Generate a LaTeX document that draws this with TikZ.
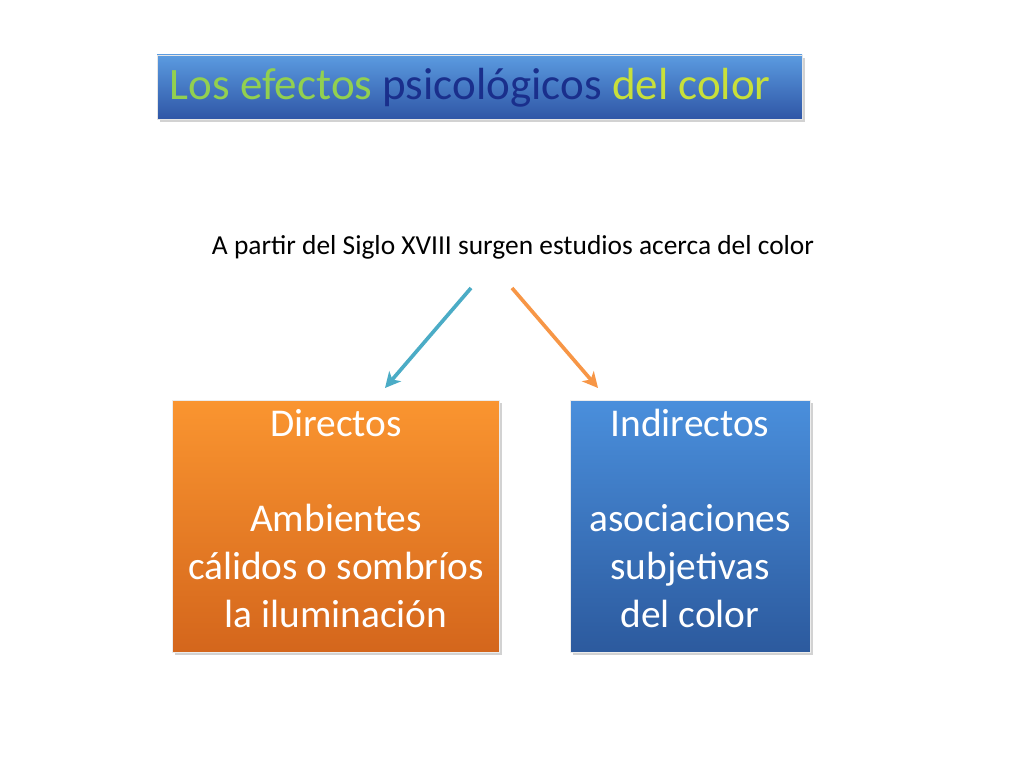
\documentclass[tikz,border=0pt]{standalone}
\usepackage{fontspec}
\setmainfont{Carlito}
\usetikzlibrary{shadows,arrows.meta}
\definecolor{ttlgreen}{HTML}{92D050}
\definecolor{ttlblue}{HTML}{1A2F8C}
\definecolor{ttlyellow}{HTML}{C8E03A}
\definecolor{arrteal}{HTML}{4BACC6}
\definecolor{arrorange}{HTML}{F79646}
\definecolor{ttltop}{HTML}{5B9BE0}
\definecolor{ttlbot}{HTML}{2F56A6}
\definecolor{warmtop}{HTML}{FA9530}
\definecolor{warmbot}{HTML}{D4661C}
\definecolor{cooltop}{HTML}{4A8FDC}
\definecolor{coolbot}{HTML}{2C5A9E}
\tikzset{
  titlebox/.style={draw=white!80!gray, top color=ttltop, bottom color=ttlbot, drop shadow={opacity=0.35}},
  warmbox/.style={draw=white!85!gray, top color=warmtop, bottom color=warmbot, drop shadow={opacity=0.35}},
  coolbox/.style={draw=white!85!gray, top color=cooltop, bottom color=coolbot, drop shadow={opacity=0.35}},
  boxtext/.style={white, font=\fontsize{28}{34}\selectfont, align=center},
  linkarrow/.style={line width=2.6pt, -{Stealth[length=11pt, width=11pt, inset=3pt]}}
}
\begin{document}
\begin{tikzpicture}[x=0.025cm, y=-0.025cm]
  \useasboundingbox (0,0) rectangle (1024,768);
  \fill[white] (0,0) rectangle (1024,768);

  \draw[titlebox] (157,55) rectangle (802,119);
  \node[anchor=west, font=\fontsize{32}{38}\selectfont] (title) at (165,88)
    {\textcolor{ttlgreen}{Los efectos} \textcolor{ttlblue}{psicológicos} \textcolor{ttlyellow}{del color}};

  \node[font=\fontsize{19.5}{24}\selectfont] (intro) at (513,247)
    {A partir del Siglo XVIII surgen estudios acerca del color};

  \draw[warmbox] (172,400) rectangle (499,652);
  \draw[coolbox] (570,400) rectangle (810,652);
  \coordinate (dtop) at (385,388);
  \coordinate (itop) at (598,388);
  \coordinate (a1) at (471,288);
  \coordinate (a2) at (512,288);

  \node[boxtext, anchor=north] (direct) at (336,404)
    {Directos\\[34pt]Ambientes\\cálidos o sombríos\\la iluminación};
  \node[boxtext, anchor=north] (indirect) at (690,404)
    {Indirectos\\[34pt]asociaciones\\subjetivas\\del color};

  \draw[linkarrow, arrteal] (a1) -- (dtop);
  \draw[linkarrow, arrorange] (a2) -- (itop);
\end{tikzpicture}
\end{document}
